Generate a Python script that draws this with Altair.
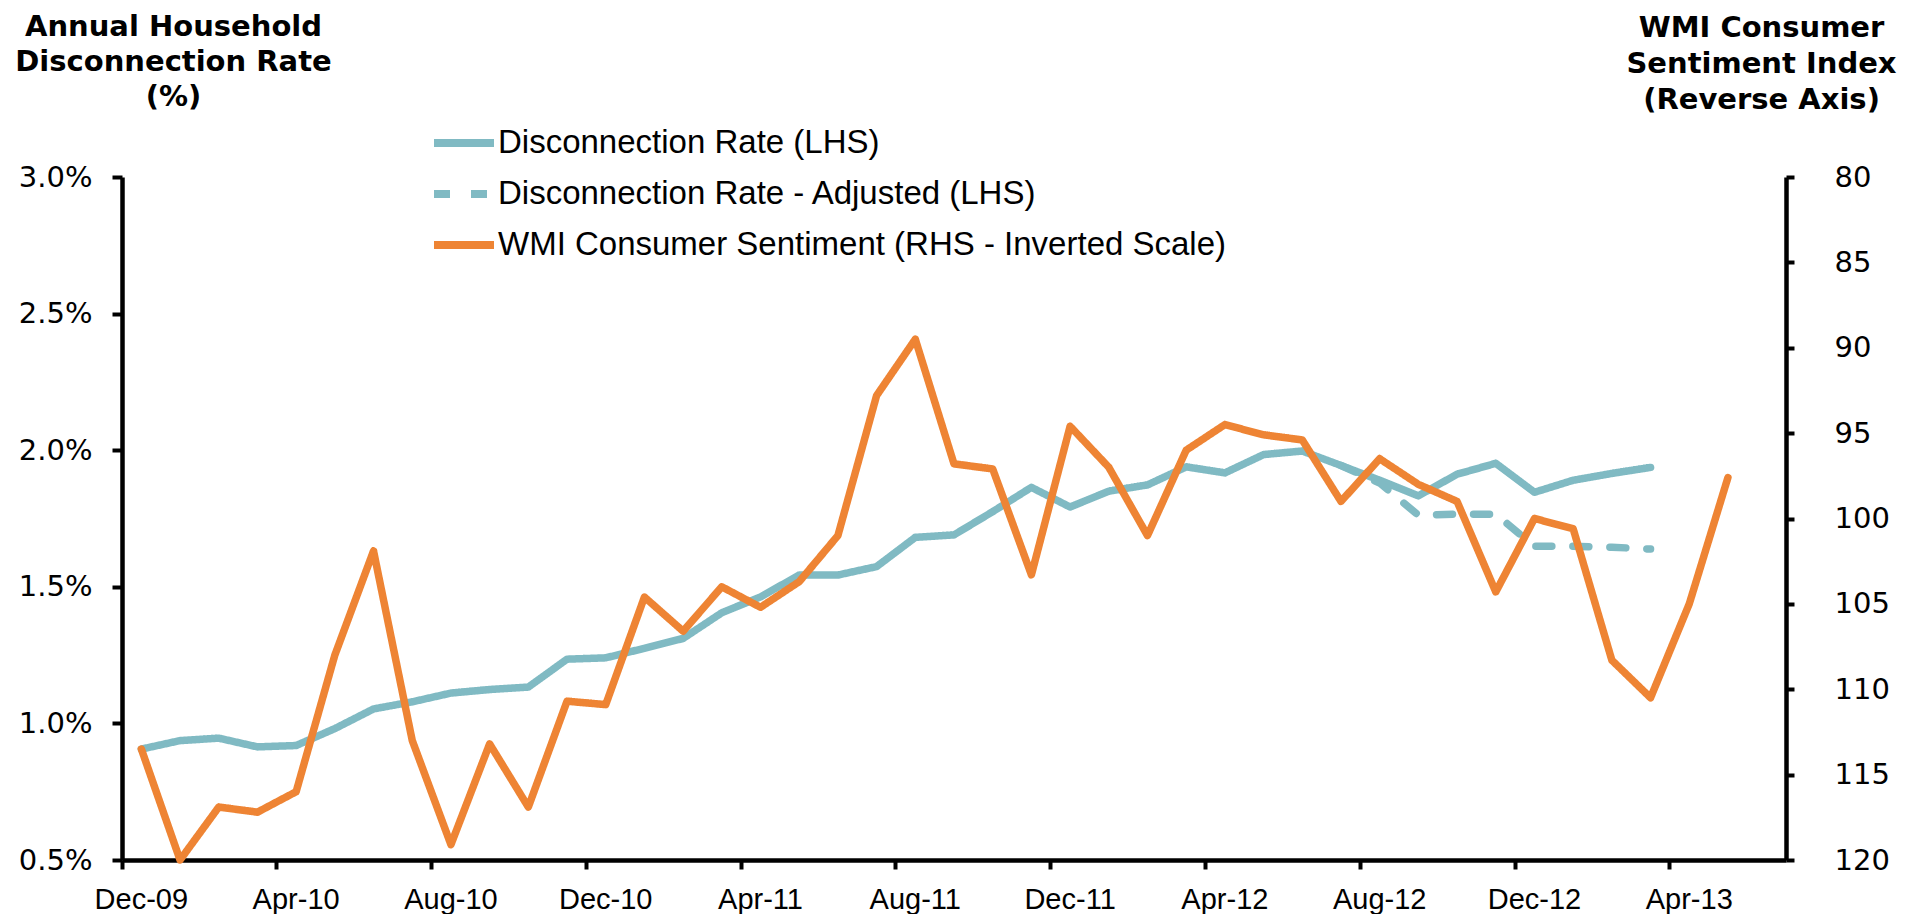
import altair as alt
import pandas as pd

months = ["Dec-09", "Jan-10", "Feb-10", "Mar-10", "Apr-10", "May-10", "Jun-10", "Jul-10",
          "Aug-10", "Sep-10", "Oct-10", "Nov-10", "Dec-10", "Jan-11", "Feb-11", "Mar-11",
          "Apr-11", "May-11", "Jun-11", "Jul-11", "Aug-11", "Sep-11", "Oct-11", "Nov-11",
          "Dec-11", "Jan-12", "Feb-12", "Mar-12", "Apr-12", "May-12", "Jun-12", "Jul-12",
          "Aug-12", "Sep-12", "Oct-12", "Nov-12", "Dec-12", "Jan-13", "Feb-13", "Mar-13",
          "Apr-13", "May-13", "Jun-13"]
tick_months = ["Dec-09", "Apr-10", "Aug-10", "Dec-10", "Apr-11", "Aug-11", "Dec-11",
               "Apr-12", "Aug-12", "Dec-12", "Apr-13"]

# Disconnection rate (%), Dec-09 .. Mar-13
rate = [0.906, 0.937, 0.946, 0.914, 0.919, 0.981, 1.053, 1.079, 1.111, 1.124,
        1.133, 1.235, 1.240, 1.275, 1.311, 1.405, 1.463, 1.543, 1.543, 1.574,
        1.681, 1.690, 1.775, 1.864, 1.792, 1.850, 1.873, 1.939, 1.917, 1.984,
        1.997, 1.944, 1.890, 1.833, 1.912, 1.952, 1.846, 1.890, 1.915, 1.937]
# Adjusted disconnection rate (%), Jul-12 .. Mar-13
adj_months = ["Jul-12", "Aug-12", "Sep-12", "Oct-12", "Nov-12", "Dec-12", "Jan-13", "Feb-13", "Mar-13"]
rate_adj = [1.944, 1.880, 1.762, 1.766, 1.766, 1.648, 1.648, 1.645, 1.638]
# WMI consumer sentiment index, Dec-09 .. May-13
wmi = [113.5, 120.0, 116.9, 117.2, 116.0, 108.0, 101.9, 113.0, 119.1, 113.2,
       116.9, 110.7, 110.9, 104.6, 106.6, 104.0, 105.2, 103.7, 101.0, 92.8,
       89.5, 96.8, 97.1, 103.3, 94.6, 97.0, 101.0, 96.0, 94.5, 95.1,
       95.4, 99.0, 96.5, 98.0, 99.0, 104.3, 100.0, 100.6, 108.3, 110.5,
       105.0, 97.6]

s_rate = "Disconnection Rate (LHS)"
s_adj = "Disconnection Rate - Adjusted (LHS)"
s_wmi = "WMI Consumer Sentiment (RHS - Inverted Scale)"
series_names = [s_rate, s_adj, s_wmi]

teal = "#80BAC3"
orange = "#EE8434"

df_left = pd.DataFrame(
    [{"month": m, "value": v, "series": s_rate} for m, v in zip(months, rate)]
    + [{"month": m, "value": v, "series": s_adj} for m, v in zip(adj_months, rate_adj)]
)
df_right = pd.DataFrame([{"month": m, "value": v, "series": s_wmi} for m, v in zip(months, wmi)])

x_enc = alt.X(
    "month:O",
    sort=months,
    scale=alt.Scale(domain=months, type="band", paddingInner=0, paddingOuter=0),
    axis=alt.Axis(
        values=tick_months, bandPosition=0, labelAngle=0, title=None,
        domainColor="black", domainWidth=4.5, tickColor="black", tickWidth=4, tickSize=9,
        labelFont="Liberation Sans", labelFontSize=29, labelColor="black", labelPadding=16,
        grid=False,
    ),
)

legend = alt.Legend(
    orient="none", legendX=308, legendY=-68, title=None, padding=0,
    labelFont="Liberation Sans", labelFontSize=33, labelColor="black", labelLimit=800,
    symbolType="stroke", symbolSize=3600, symbolStrokeWidth=8,
    labelOffset=0, rowPadding=0,
)
color_enc = alt.Color("series:N", scale=alt.Scale(domain=series_names, range=[teal, teal, orange]), legend=legend)
dash_enc = alt.StrokeDash("series:N", scale=alt.Scale(domain=series_names, range=[[1, 0], [16, 21], [1, 0]]), legend=legend)

left = alt.Chart(df_left).mark_line(strokeWidth=7.5, strokeCap="round", strokeJoin="round").encode(
    x=x_enc,
    y=alt.Y(
        "value:Q",
        scale=alt.Scale(domain=[0.5, 3.0], nice=False, zero=False),
        axis=alt.Axis(
            orient="left", values=[0.5, 1.0, 1.5, 2.0, 2.5, 3.0],
            labelExpr="format(datum.value, '.1f') + '%'",
            domainColor="black", domainWidth=4.5, tickColor="black", tickWidth=4, tickSize=10,
            labelFont="DejaVu Sans", labelFontSize=29, labelColor="black", labelPadding=20,
            grid=False,
            title=["Annual Household", "Disconnection Rate", "(%)"],
            titleAngle=0, titleAlign="center", titleBaseline="alphabetic",
            titleX=51, titleY=-142, titleFont="DejaVu Sans", titleFontWeight="bold",
            titleFontSize=29, titleLineHeight=35, titleColor="black",
        ),
    ),
    color=color_enc,
    strokeDash=dash_enc,
    detail="series:N",
)

right = alt.Chart(df_right).mark_line(strokeWidth=7.5, strokeCap="round", strokeJoin="round").encode(
    x=x_enc,
    y=alt.Y(
        "value:Q",
        scale=alt.Scale(domain=[80, 120], reverse=True, nice=False, zero=False),
        axis=alt.Axis(
            orient="right", values=[80, 85, 90, 95, 100, 105, 110, 115, 120],
            domainColor="black", domainWidth=4.5, tickColor="black", tickWidth=4, tickSize=8,
            labelFont="DejaVu Sans", labelFontSize=29, labelColor="black", labelPadding=40,
            grid=False,
            title=["WMI Consumer", "Sentiment Index", "(Reverse Axis)"],
            titleAngle=0, titleAlign="center", titleBaseline="alphabetic",
            titleX=-25, titleY=-141, titleFont="DejaVu Sans", titleFontWeight="bold",
            titleFontSize=29, titleLineHeight=36, titleColor="black",
        ),
    ),
    color=color_enc,
    strokeDash=dash_enc,
)

chart = alt.layer(left, right).resolve_scale(y="independent").resolve_axis(y="independent").properties(
    width=1664, height=683,
    padding={"left": 114, "top": 169, "right": 114, "bottom": 54},
    autosize=alt.AutoSizeParams(type="none"),
    background="white",
).configure_view(stroke=None)

chart.save("out.html", embed_options={"renderer": "svg", "actions": False})
